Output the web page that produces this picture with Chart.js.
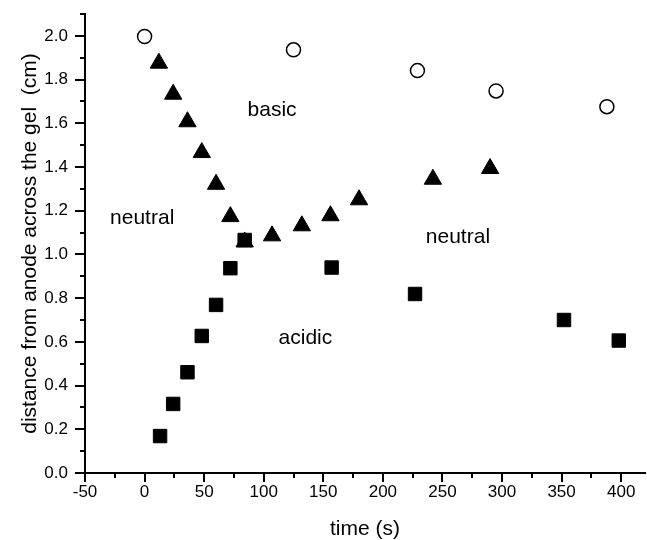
<!DOCTYPE html>
<html>
<head>
<meta charset="utf-8">
<script src="https://cdn.jsdelivr.net/npm/chart.js@4/dist/chart.umd.min.js"></script>
<style>
  html, body { margin: 0; padding: 0; background: #fff; }
</style>
</head>
<body>
<canvas id="chart-gel" width="647" height="540"></canvas>
<script>
// open circles: basic front
var circleX = [0, 125, 229, 295, 388];
var circleY = [1.997, 1.936, 1.841, 1.748, 1.676];

// filled triangles
var triX = [12, 24, 36, 48, 60, 72, 84, 107, 132, 156, 180, 242, 290];
var triY = [1.875, 1.733, 1.607, 1.466, 1.321, 1.173, 1.057, 1.085, 1.131, 1.177, 1.250, 1.344, 1.393];

// filled squares: acidic front
var sqX = [13, 24, 36, 48, 60, 72, 84, 157, 227, 352, 398];
var sqY = [0.169, 0.316, 0.461, 0.627, 0.769, 0.937, 1.066, 0.940, 0.819, 0.700, 0.606];

// region names written inside the plot
var regionText = ['basic', 'neutral', 'neutral', 'acidic'];
var regionX = [107, -2, 263, 135];
var regionY = [1.661, 1.167, 1.080, 0.618];

var FONT = '"Liberation Sans", Arial, Helvetica, sans-serif';

function pts(xs, ys) {
    return xs.map(function (x, i) { return { x: x, y: ys[i] }; });
}

function onGrid(v, step) {
    return Math.abs(v / step - Math.round(v / step)) < 1e-6;
}

// tick marks outside the axes, long for labelled ticks and short for the others
var tickMarks = {
    id: 'tickMarks',
    afterDraw: function (chart) {
        var ctx = chart.ctx;
        var xs = chart.scales.x, ys = chart.scales.y;
        ctx.save();
        ctx.strokeStyle = '#000';
        ctx.lineWidth = 2;
        ctx.beginPath();
        xs.ticks.forEach(function (t) {
            var px = Math.round(xs.getPixelForValue(t.value));
            var len = onGrid(t.value, 50) ? 9 : 5;
            ctx.moveTo(px, xs.top);
            ctx.lineTo(px, xs.top + len);
        });
        ys.ticks.forEach(function (t) {
            var py = Math.round(ys.getPixelForValue(t.value));
            var len = onGrid(t.value, 0.2) ? 10 : 5;
            ctx.moveTo(ys.right, py);
            ctx.lineTo(ys.right - len, py);
        });
        ctx.stroke();
        ctx.restore();
    }
};

var regionLabels = {
    id: 'regionLabels',
    afterDatasetsDraw: function (chart) {
        var ctx = chart.ctx;
        ctx.save();
        ctx.fillStyle = '#000';
        ctx.font = '21px ' + FONT;
        ctx.textAlign = 'center';
        ctx.textBaseline = 'middle';
        regionText.forEach(function (txt, i) {
            ctx.fillText(txt, chart.scales.x.getPixelForValue(regionX[i]), chart.scales.y.getPixelForValue(regionY[i]));
        });
        ctx.restore();
    }
};

var ctx = document.getElementById('chart-gel');
new Chart(ctx, {
    type: 'scatter',
    data: {
        datasets: [
            {
                data: pts(sqX, sqY),
                pointStyle: 'rect',
                pointRadius: 9.5,
                backgroundColor: '#000',
                borderColor: '#000',
                borderWidth: 1
            },
            {
                data: pts(triX, triY),
                pointStyle: 'triangle',
                pointRadius: 10,
                backgroundColor: '#000',
                borderColor: '#000',
                borderWidth: 1
            },
            {
                data: pts(circleX, circleY),
                pointStyle: 'circle',
                pointRadius: 7,
                backgroundColor: '#fff',
                borderColor: '#000',
                borderWidth: 1.5
            }
        ]
    },
    options: {
        responsive: false,
        animation: false,
        layout: { autoPadding: false, padding: { top: 14, right: 2, left: 0, bottom: 0 } },
        plugins: { legend: { display: false }, tooltip: { enabled: false } },
        scales: {
            x: {
                type: 'linear',
                min: -50,
                max: 420,
                afterFit: function (s) {
                    s.height = 67;
                    s.paddingLeft = 0;
                    s.paddingRight = 0;
                },
                border: { display: true, color: '#000', width: 2 },
                grid: { drawOnChartArea: false, drawTicks: false },
                ticks: {
                    stepSize: 25,
                    includeBounds: false,
                    autoSkip: false,
                    maxRotation: 0,
                    padding: 9,
                    color: '#000',
                    font: { family: FONT, size: 17 },
                    callback: function (v) { return onGrid(v, 50) ? String(v) : ''; }
                },
                title: {
                    display: true,
                    text: 'time (s)',
                    color: '#000',
                    font: { family: FONT, size: 21, lineHeight: 1 },
                    padding: { top: 0, bottom: 0 }
                }
            },
            y: {
                min: 0,
                max: 2.1,
                afterFit: function (s) {
                    s.width = 85;
                    s.paddingTop = 0;
                    s.paddingBottom = 0;
                },
                border: { display: true, color: '#000', width: 2 },
                grid: { drawOnChartArea: false, drawTicks: false },
                ticks: {
                    stepSize: 0.1,
                    autoSkip: false,
                    padding: 17,
                    color: '#000',
                    font: { family: FONT, size: 17 },
                    callback: function (v) { return onGrid(v, 0.2) ? v.toFixed(1) : ''; }
                },
                title: {
                    display: true,
                    text: 'distance from anode across the gel  (cm)',
                    color: '#000',
                    font: { family: FONT, size: 21, lineHeight: 1 },
                    padding: { top: 20, bottom: 0 }
                }
            }
        }
    },
    plugins: [tickMarks, regionLabels]
});
</script>
</body>
</html>
